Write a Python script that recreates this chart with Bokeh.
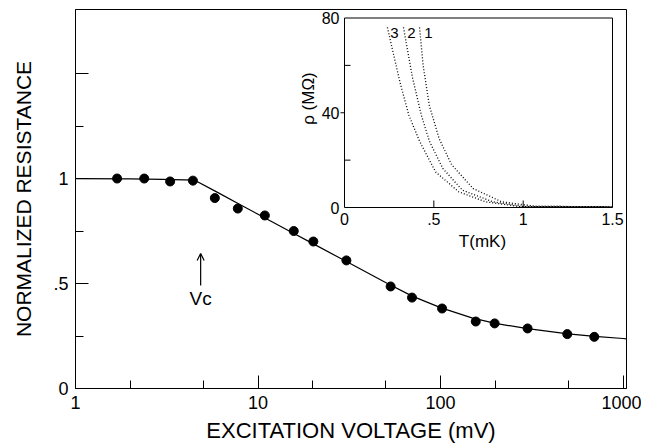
from bokeh.plotting import figure
from bokeh.models import Range1d, LinearScale, FixedTicker, Arrow, OpenHead, Label
from bokeh.embed import file_html
from bokeh.resources import INLINE
from bokeh.core.properties import value
import math

FONT = "Liberation Sans"

# ---- main panel data ----
volt = [1.69, 2.38, 3.30, 4.40, 5.80, 7.75, 10.9, 15.7, 20.1, 30.5, 53.3, 69.8, 102, 156, 198, 300, 495, 696]
res = [1.0, 1.0, 0.986, 0.99, 0.907, 0.857, 0.824, 0.75, 0.70, 0.61, 0.486, 0.433, 0.381, 0.319, 0.31, 0.286, 0.259, 0.246]
fit_v = [1, 2, 3, 4.5, 6, 8, 10, 15, 20, 30, 50, 70, 100, 150, 200, 300, 500, 700, 1000, 1045]
fit_r = [1.0, 0.998, 0.996, 0.992, 0.934, 0.875, 0.830, 0.748, 0.690, 0.608, 0.505, 0.44, 0.385, 0.335, 0.31, 0.285, 0.26, 0.248, 0.238, 0.236]
x_major = [1, 10, 100, 1000]
x_minor = [2, 5, 20, 50, 200, 500]
y_major = [0, 0.5, 1.0, 1.5]
y_minor = [0.25, 0.75, 1.25]
y_labels = {0: "0", 0.5: ".5", 1.0: "1", 1.5: ""}
vc_voltage = 4.85
vc_arrow = (0.49, 0.643)

# ---- inset data ----
t1 = [0.42, 0.44, 0.475, 0.53, 0.60, 0.72, 0.88, 1.07, 1.5]
r1 = [76, 60, 43, 29, 18, 8.0, 2.4, 0.5, 0.3]
t2 = [0.33, 0.38, 0.43, 0.475, 0.55, 0.66, 0.83, 1.0, 1.5]
r2 = [76, 55, 39, 28, 16.5, 7.3, 2.4, 0.5, 0.3]
t3 = [0.24, 0.31, 0.36, 0.42, 0.51, 0.64, 0.79, 0.98, 1.5]
r3 = [76, 53, 39, 28, 15, 6.6, 2.4, 0.4, 0.3]
curve_names = ["3", "2", "1"]
curve_label_t = [0.279, 0.374, 0.469]
curve_label_r = 73.5
ins_xlim = [0, 1.5]
ins_ylim = [0, 80]
ins_xticks = [0.5, 1.0]
ins_xticklabels = ["0", ".5", "1", "1.5"]
ins_xticklocs = [0, 0.5, 1.0, 1.5]
ins_yticklocs = [0, 40, 80]
ins_yticklabels = ["0", "40", "80"]
ins_yminor = [20, 60]

p = figure(width=641, height=446, x_axis_type="log",
           x_range=Range1d(1, 1045), y_range=Range1d(0, 1.805),
           output_backend="svg", toolbar_location=None,
           min_border_left=75, min_border_right=15, min_border_top=9, min_border_bottom=58)
p.background_fill_color = "white"
p.border_fill_color = "white"
p.outline_line_color = "black"
p.outline_line_width = 1
p.xgrid.visible = False
p.ygrid.visible = False

# inset coordinate system inside the main frame
PXT = 178.67   # px per mK
PXR = 2.3688   # px per MOhm
p.extra_x_ranges = {"ix": Range1d(-1.5056, 1.5783)}
p.extra_y_ranges = {"iy": Range1d(-76.41, 83.59)}
p.extra_x_scales = {"ix": LinearScale()}
p.extra_y_scales = {"iy": LinearScale()}

xa = p.xaxis[0]
xa.ticker = FixedTicker(ticks=x_major, minor_ticks=x_minor)
xa.major_label_overrides = {v: str(v) for v in x_major}
ya = p.yaxis[0]
ya.ticker = FixedTicker(ticks=y_major, minor_ticks=y_minor)
ya.major_label_overrides = y_labels
for ax in (xa, ya):
    ax.axis_line_color = "black"
    ax.major_tick_line_color = "black"
    ax.minor_tick_line_color = "black"
    ax.major_tick_in = 13
    ax.major_tick_out = 0
    ax.minor_tick_in = 8
    ax.minor_tick_out = 0
    ax.major_label_text_font = FONT
    ax.major_label_text_font_size = "18px"
    ax.major_label_text_color = "black"
    ax.axis_label_text_font = FONT
    ax.axis_label_text_font_style = "normal"
    ax.axis_label_text_color = "black"
xa.axis_label = "EXCITATION VOLTAGE (mV)"
xa.axis_label_text_font_size = "22px"
xa.major_label_standoff = 7
xa.axis_label_standoff = 6
ya.axis_label = "NORMALIZED RESISTANCE"
ya.axis_label_text_font_size = "21px"
ya.major_label_standoff = 7
ya.axis_label_standoff = 15

p.line(fit_v, fit_r, line_color="black", line_width=1.2)
p.scatter(volt, res, size=9, color="black")

p.add_layout(Arrow(end=OpenHead(size=7, line_width=1.2, line_color="black"),
                   x_start=vc_voltage, y_start=vc_arrow[0], x_end=vc_voltage, y_end=vc_arrow[1],
                   line_width=1.2, line_color="black"))
p.add_layout(Label(x=vc_voltage, y=vc_arrow[0] - 0.012, text="Vc", text_align="center",
                   text_baseline="top", text_font=FONT, text_font_size="19px", text_color="black"))

# ---- inset ----
kw = dict(x_range_name="ix", y_range_name="iy")
p.quad(left=[ins_xlim[0]], right=[ins_xlim[1]], bottom=[ins_ylim[0]], top=[ins_ylim[1]],
       fill_color="white", line_color="black", line_width=1, **kw)
p.segment(x0=ins_xticks, x1=ins_xticks, y0=[0] * len(ins_xticks), y1=[7 / PXR] * len(ins_xticks),
          line_color="black", **kw)
p.segment(x0=[0] * len(ins_yminor), x1=[6 / PXT] * len(ins_yminor), y0=ins_yminor, y1=ins_yminor,
          line_color="black", **kw)
p.segment(x0=[-4 / PXT], x1=[0], y0=[40], y1=[40], line_color="black", **kw)

for tt, rr in ((t1, r1), (t2, r2), (t3, r3)):
    p.line(tt, rr, line_color="black", line_width=1.3, line_dash="1 2", **kw)

tk = dict(text_font=value(FONT), text_color="black", **kw)
p.text(x=ins_xticklocs, y=[0] * 4, text=ins_xticklabels, text_align="center",
       text_baseline="top", y_offset=5, text_font_size="16px", **tk)
p.text(x=[0] * 3, y=ins_yticklocs, text=ins_yticklabels, text_align="right",
       text_baseline="middle", x_offset=-5, text_font_size="16px", **tk)
p.text(x=[0.772], y=[0], text=["T(mK)"], text_align="center", text_baseline="top",
       y_offset=24, text_font_size="17px", **tk)
p.text(x=[0], y=[46], text=["ρ (MΩ)"], text_align="center", text_baseline="middle",
       angle=math.pi / 2, x_offset=-36, text_font_size="17px", **tk)
p.text(x=curve_label_t, y=[curve_label_r] * 3, text=curve_names, text_align="center",
       text_baseline="alphabetic", text_font_size="15px", **tk)

open("out.html", "w").write(file_html(p, INLINE))
